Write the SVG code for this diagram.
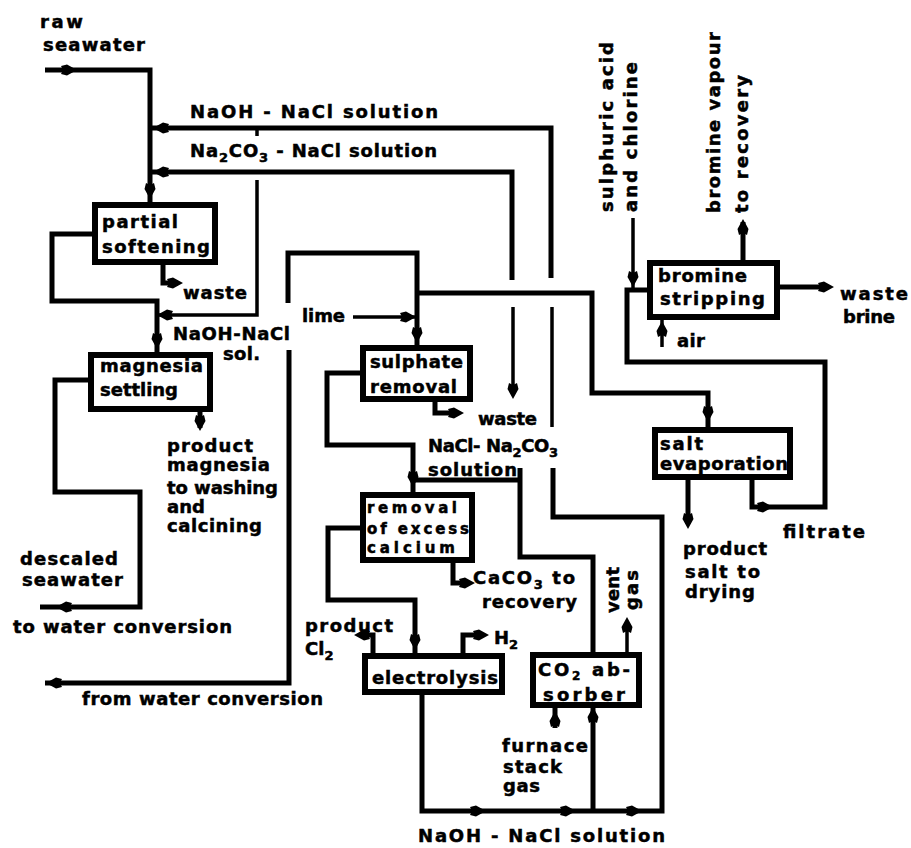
<svg xmlns="http://www.w3.org/2000/svg" xmlns:xlink="http://www.w3.org/1999/xlink" width="911" height="848" viewBox="0 0 911 848">
<defs>
<style>
.ln{fill:none;stroke:#000;stroke-width:5;stroke-linejoin:miter;stroke-linecap:butt}
.th{stroke-width:3.5}
.box{fill:#fff;stroke:#000;stroke-width:6}
text{font-family:"DejaVu Sans","Liberation Sans",sans-serif;font-weight:bold;font-size:18px;fill:#000;stroke:#000;stroke-width:0.5}
.sm{font-size:15px}
</style>
<path id="a" d="M9,0 L-1,-5.5 L-7,-4 L-5,0 L-7,4 L-1,5.5 Z" fill="#000"/>
</defs>
<rect width="911" height="848" fill="#fff"/>

<g id="connectors">
<path class="ln" d="M45,70 H150 V203"/>
<path class="ln" d="M150,128 H551 V278"/>
<path class="ln th" d="M552,307 V427"/>
<path class="ln" d="M553,468 V517 H662 V811 H422 V695"/>
<path class="ln" d="M150,172 H512 V280"/>
<path class="ln th" d="M513,307 V392"/>
<path class="ln" d="M593,653 V557 H520 V468"/>
<path class="ln" d="M520,480 H413"/>
<path class="ln th" d="M257,128 V136"/>
<path class="ln th" d="M257,180 V315 H157"/>
<path class="ln" d="M92,234 H52 V301 H157 V353"/>
<path class="ln" d="M163,265 V283 H178"/>
<path class="ln" d="M88,380 H55 V492 H140 V607 H40"/>
<path class="ln" d="M200,412 V428"/>
<path class="ln" d="M45,683 H289 V350"/>
<path class="ln" d="M288,303 V253 H417 V346"/>
<path class="ln th" d="M353,317 H417"/>
<path class="ln" d="M417,293 H592 V393 H708 V428"/>
<path class="ln" d="M435,402 V413 H456"/>
<path class="ln" d="M360,373 H327 V445 H413 V493"/>
<path class="ln" d="M453,563 V583 H466"/>
<path class="ln" d="M360,528 H328 V600 H415 V654"/>
<path class="ln" d="M373,653 V635 H362"/>
<path class="ln" d="M463,653 V635 H480"/>
<path class="ln th" d="M627,652 V622"/>
<path class="ln" d="M555,708 V728"/>
<path class="ln" d="M593,708 V811"/>
<path class="ln th" d="M633,218 V290"/>
<path class="ln" d="M752,480 V507 H825 V362 H627 V290 H648"/>
<path class="ln" d="M743,260 V222"/>
<path class="ln" d="M780,287 H828"/>
<path class="ln th" d="M662,320 V347"/>
<path class="ln" d="M688,480 V524"/>

<use xlink:href="#a" transform="translate(68,70)"/>
<use xlink:href="#a" transform="translate(150,190) rotate(90)"/>
<use xlink:href="#a" transform="translate(162,128) rotate(180)"/>
<use xlink:href="#a" transform="translate(162,172) rotate(180)"/>
<use xlink:href="#a" transform="translate(174,283)"/>
<use xlink:href="#a" transform="translate(157,340) rotate(90)"/>
<use xlink:href="#a" transform="translate(166,315) rotate(180)"/>
<use xlink:href="#a" transform="translate(200,422) rotate(90)"/>
<use xlink:href="#a" transform="translate(65,607) rotate(180)"/>
<use xlink:href="#a" transform="translate(55,683) rotate(180)"/>
<use xlink:href="#a" transform="translate(407,317)"/>
<use xlink:href="#a" transform="translate(417,334) rotate(90)"/>
<use xlink:href="#a" transform="translate(455,413)"/>
<use xlink:href="#a" transform="translate(513,390) rotate(90)"/>
<use xlink:href="#a" transform="translate(413,478) rotate(90)"/>
<use xlink:href="#a" transform="translate(466,583)"/>
<use xlink:href="#a" transform="translate(415,641) rotate(90)"/>
<use xlink:href="#a" transform="translate(363,635) rotate(180)"/>
<use xlink:href="#a" transform="translate(480,635)"/>
<use xlink:href="#a" transform="translate(627,626) rotate(270)"/>
<use xlink:href="#a" transform="translate(555,720) rotate(270)"/>
<use xlink:href="#a" transform="translate(593,716) rotate(270)"/>
<use xlink:href="#a" transform="translate(477,811)"/>
<use xlink:href="#a" transform="translate(567,811)"/>
<use xlink:href="#a" transform="translate(633,811)"/>
<use xlink:href="#a" transform="translate(708,413) rotate(90)"/>
<use xlink:href="#a" transform="translate(633,278) rotate(90)"/>
<use xlink:href="#a" transform="translate(743,228) rotate(270)"/>
<use xlink:href="#a" transform="translate(825,287)"/>
<use xlink:href="#a" transform="translate(662,330) rotate(270)"/>
<use xlink:href="#a" transform="translate(688,520) rotate(90)"/>
<use xlink:href="#a" transform="translate(764,507)"/>
</g>

<g id="partial-softening">
<rect class="box" x="95" y="205" width="120" height="57"/>
<text x="102" y="228" textLength="76" lengthAdjust="spacing">partial</text>
<text x="102" y="253" textLength="108" lengthAdjust="spacing">softening</text>
</g>
<g id="magnesia-settling">
<rect class="box" x="91" y="355" width="119" height="54"/>
<text x="100" y="372" textLength="103" lengthAdjust="spacing">magnesia</text>
<text x="100" y="396" textLength="78" lengthAdjust="spacing">settling</text>
</g>
<g id="sulphate-removal">
<rect class="box" x="363" y="348" width="107" height="51"/>
<text x="370" y="368" textLength="93" lengthAdjust="spacing">sulphate</text>
<text x="370" y="393" textLength="87" lengthAdjust="spacing">removal</text>
</g>
<g id="removal-excess-calcium">
<rect class="box" x="363" y="495" width="109" height="65"/>
<text class="sm" x="367" y="513" textLength="90" lengthAdjust="spacing">removal</text>
<text class="sm" x="367" y="534" textLength="102" lengthAdjust="spacing">of excess</text>
<text class="sm" x="367" y="553" textLength="88" lengthAdjust="spacing">calcium</text>
</g>
<g id="electrolysis">
<rect class="box" x="365" y="656" width="137" height="36"/>
<text x="372" y="684" textLength="126" lengthAdjust="spacing">electrolysis</text>
</g>
<g id="co2-absorber">
<rect class="box" x="533" y="655" width="106" height="50"/>
<text x="538" y="676" textLength="92" lengthAdjust="spacing">CO<tspan dy="4" font-size="12">2</tspan><tspan dy="-4"> ab-</tspan></text>
<text x="543" y="701" textLength="82" lengthAdjust="spacing">sorber</text>
</g>
<g id="bromine-stripping">
<rect class="box" x="650" y="263" width="127" height="54"/>
<text x="658" y="282" textLength="89" lengthAdjust="spacing">bromine</text>
<text x="660" y="305" textLength="105" lengthAdjust="spacing">stripping</text>
</g>
<g id="salt-evaporation">
<rect class="box" x="655" y="430" width="135" height="47"/>
<text x="660" y="450" textLength="43" lengthAdjust="spacing">salt</text>
<text x="660" y="470" textLength="128" lengthAdjust="spacing">evaporation</text>
</g>

<g id="labels">
<text x="40" y="28" textLength="43" lengthAdjust="spacing">raw</text>
<text x="43" y="51" textLength="102" lengthAdjust="spacing">seawater</text>
<text x="190" y="118" textLength="248" lengthAdjust="spacing">NaOH - NaCl solution</text>
<text x="190" y="157" textLength="247" lengthAdjust="spacing">Na<tspan dy="5" font-size="13">2</tspan><tspan dy="-5">CO</tspan><tspan dy="5" font-size="13">3</tspan><tspan dy="-5"> - NaCl solution</tspan></text>
<text x="183" y="299" textLength="64" lengthAdjust="spacing">waste</text>
<text x="173" y="340" textLength="117" lengthAdjust="spacing">NaOH-NaCl</text>
<text x="223" y="360" textLength="37" lengthAdjust="spacing">sol.</text>
<text x="302" y="322" textLength="43" lengthAdjust="spacing">lime</text>
<text x="167" y="452" textLength="86" lengthAdjust="spacing">product</text>
<text x="167" y="471" textLength="103" lengthAdjust="spacing">magnesia</text>
<text x="167" y="494" textLength="111" lengthAdjust="spacing">to washing</text>
<text x="167" y="513" textLength="38" lengthAdjust="spacing">and</text>
<text x="167" y="532" textLength="95" lengthAdjust="spacing">calcining</text>
<text x="20" y="565" textLength="98" lengthAdjust="spacing">descaled</text>
<text x="22" y="586" textLength="101" lengthAdjust="spacing">seawater</text>
<text x="13" y="633" textLength="219" lengthAdjust="spacing">to water conversion</text>
<text x="82" y="705" textLength="241" lengthAdjust="spacing">from water conversion</text>
<text x="478" y="425" textLength="59" lengthAdjust="spacing">waste</text>
<text x="428" y="452" textLength="130" lengthAdjust="spacing">NaCl- Na<tspan dy="5" font-size="13">2</tspan><tspan dy="-5">CO</tspan><tspan dy="5" font-size="13">3</tspan></text>
<text x="428" y="476" textLength="89" lengthAdjust="spacing">solution</text>
<text x="473" y="584" textLength="102" lengthAdjust="spacing">CaCO<tspan dy="5" font-size="13">3</tspan><tspan dy="-5"> to</tspan></text>
<text x="482" y="608" textLength="95" lengthAdjust="spacing">recovery</text>
<text x="305" y="632" textLength="88" lengthAdjust="spacing">product</text>
<text x="305" y="655">Cl<tspan dy="5" font-size="13">2</tspan></text>
<text x="494" y="644">H<tspan dy="5" font-size="13">2</tspan></text>
<text transform="translate(619,613) rotate(-90)" textLength="46" lengthAdjust="spacing">vent</text>
<text transform="translate(638,610) rotate(-90)" textLength="40" lengthAdjust="spacing">gas</text>
<text x="502" y="752" textLength="86" lengthAdjust="spacing">furnace</text>
<text x="503" y="773" textLength="59" lengthAdjust="spacing">stack</text>
<text x="503" y="792" textLength="37" lengthAdjust="spacing">gas</text>
<text x="418" y="842" textLength="247" lengthAdjust="spacing">NaOH - NaCl solution</text>
<text transform="translate(613,212) rotate(-90)" textLength="170" lengthAdjust="spacing">sulphuric acid</text>
<text transform="translate(637,212) rotate(-90)" textLength="150" lengthAdjust="spacing">and chlorine</text>
<text transform="translate(720,213) rotate(-90)" textLength="181" lengthAdjust="spacing">bromine vapour</text>
<text transform="translate(748,213) rotate(-90)" textLength="138" lengthAdjust="spacing">to recovery</text>
<text x="840" y="300" textLength="68" lengthAdjust="spacing">waste</text>
<text x="843" y="323" textLength="52" lengthAdjust="spacing">brine</text>
<text x="677" y="347" textLength="28" lengthAdjust="spacing">air</text>
<text x="783" y="538" textLength="82" lengthAdjust="spacing">filtrate</text>
<text x="683" y="555" textLength="84" lengthAdjust="spacing">product</text>
<text x="685" y="578" textLength="75" lengthAdjust="spacing">salt to</text>
<text x="685" y="598" textLength="70" lengthAdjust="spacing">drying</text>
</g>
</svg>
